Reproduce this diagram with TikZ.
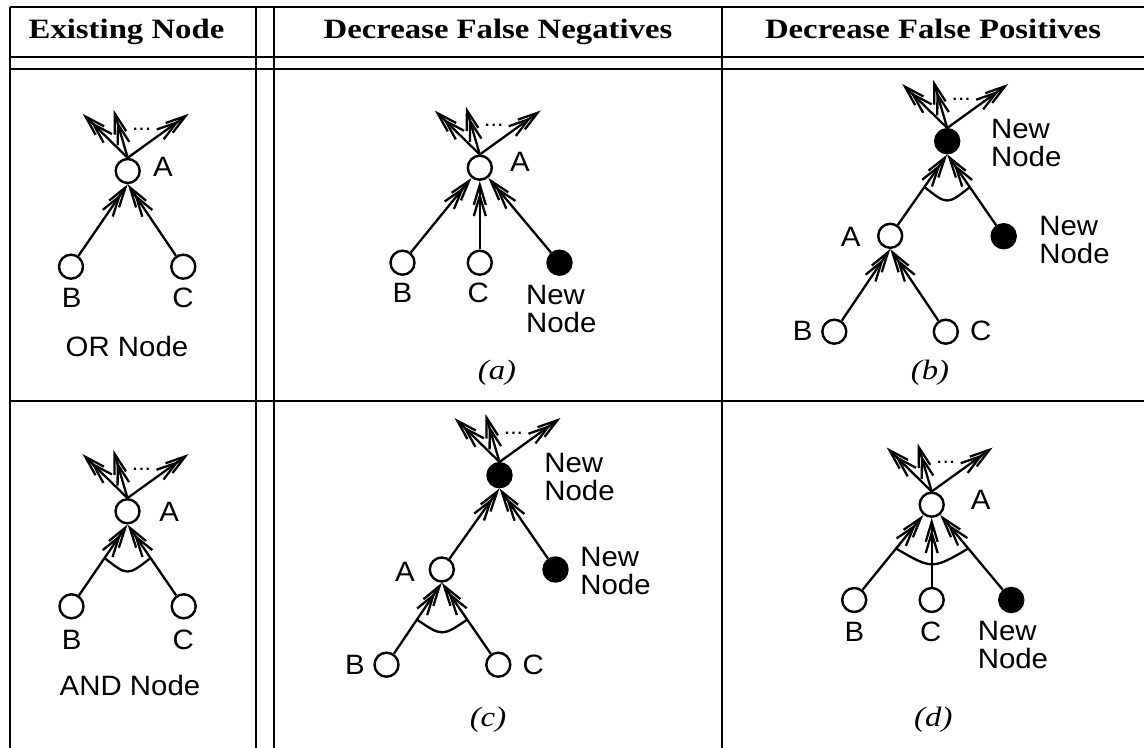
\documentclass[tikz,border=0pt]{standalone}
\usepackage{fontspec}
\setmainfont{Liberation Serif}
\setsansfont{Liberation Sans}
\newfontfamily\headfont[FakeStretch=1.17]{Liberation Serif}
\newfontfamily\labelfont[FakeStretch=1.05]{Liberation Sans}
\usetikzlibrary{arrows.meta,calc}
\tikzset{every picture/.style={line width=1.1pt}}

\newcommand{\fanout}[1]{%
  \draw[link] (#1.north) -- ++(-45,-44);
  \draw[link] (#1.north) -- ++(-14,-48);
  \draw[link] (#1.north) -- ++(61,-44);
  \node[lbl,font=\labelfont\fontsize{11}{12}\selectfont] (#1-dots) at ($(#1)+(14,-42)$) {...};
}

\begin{document}
\begin{tikzpicture}[x=0.5pt,y=-0.5pt,
    dot/.style={circle,draw,line width=1.2pt,inner sep=0pt,minimum size=12pt},
    newdot/.style={dot,fill=black},
    lbl/.style={font=\labelfont\fontsize{14}{14}\selectfont,inner sep=0pt},
    newlbl/.style={lbl,align=left,anchor=west},
    head/.style={font=\headfont\bfseries\fontsize{14}{16}\selectfont,anchor=base,inner sep=0pt},
    sublbl/.style={font=\headfont\itshape\fontsize{14}{16}\selectfont,inner sep=0pt},
    link/.style={line width=1.15pt,-{Straight Barb[length=10pt,width=6pt,sep=-7pt]Straight Barb[length=10pt,width=6pt]}},
    andarc/.style={line width=1.15pt}]
    \useasboundingbox (0,0) rectangle (1144,748);

    % table
    \draw (10,7) -- (1144,7);
    \draw (10,57) -- (1144,57);
    \draw (10,69) -- (1144,69);
    \draw (10,401) -- (1144,401);
    \draw (10,7) -- (10,748);
    \draw (256,7) -- (256,748);
    \draw (274,7) -- (274,748);
    \draw (722,7) -- (722,748);
    \node[head] (h1) at (126.5,39) {Existing Node};
    \node[head] (h2) at (498,39) {Decrease False Negatives};
    \node[head] (h3) at (933,39) {Decrease False Positives};

    % OR node
    \node[dot] (A1) at (127.7,171) {};
    \node[dot] (B1) at (71,266.7) {};
    \node[dot] (C1) at (183.3,266.7) {};
    \node[lbl] (A1-l) at (163,167) {A};
    \node[lbl] (B1-l) at (71.7,298) {B};
    \node[lbl] (C1-l) at (183,298) {C};
    \node[lbl] (or-l) at (127,346) {OR Node};
    \draw[link] (B1) -- (A1.south);
    \draw[link] (C1) -- (A1.south);
    \fanout{A1}

    % (a)
    \node[dot] (Aa) at (479.8,167.7) {};
    \node[dot] (Ba) at (402.5,262.7) {};
    \node[dot] (Ca) at (479.8,262.7) {};
    \node[newdot] (Na) at (559.5,262.7) {};
    \node[lbl] (Aa-l) at (520,161.7) {A};
    \node[lbl] (Ba-l) at (402.3,293.3) {B};
    \node[lbl] (Ca-l) at (478.3,293.3) {C};
    \node[newlbl] (Na-l) at (525,309) {New\\Node};
    \node[sublbl] (a-l) at (497,373) {(a)};
    \draw[link] (Ba) -- (Aa);
    \draw[link] (Ca) -- (Aa);
    \draw[link] (Na) -- (Aa);
    \fanout{Aa}

    % (b)
    \node[newdot] (Tb) at (947.2,141.2) {};
    \node[dot] (Ab) at (890.2,235.8) {};
    \node[newdot] (Nb) at (1003.7,236.2) {};
    \node[dot] (Bb) at (834.3,331.7) {};
    \node[dot] (Cb) at (945.8,331.7) {};
    \node[newlbl] (Tb-l) at (990,143.3) {New\\Node};
    \node[lbl] (Ab-l) at (850.7,236.7) {A};
    \node[newlbl] (Nb-l) at (1038.3,240) {New\\Node};
    \node[lbl] (Bb-l) at (802.7,330.7) {B};
    \node[lbl] (Cb-l) at (980.7,330.7) {C};
    \node[sublbl] (b-l) at (930,373) {(b)};
    \draw[link] (Ab) -- (Tb.south);
    \draw[link] (Nb) -- (Tb.south);
    \draw[link] (Bb) -- (Ab.south);
    \draw[link] (Cb) -- (Ab.south);
    \coordinate (b-p) at ($(Tb.south)!0.4!(Ab)$);
    \coordinate (b-q) at ($(Tb.south)!0.4!(Nb)$);
    \draw[andarc] (b-p) .. controls ($(b-p)!0.5!(b-q)+(0,18)$) .. (b-q);
    \fanout{Tb}

    % AND node
    \node[dot] (A4) at (127.5,511.3) {};
    \node[dot] (B4) at (71.5,606.3) {};
    \node[dot] (C4) at (183.7,606.3) {};
    \node[lbl] (A4-l) at (169.3,511.7) {A};
    \node[lbl] (B4-l) at (71.7,640) {B};
    \node[lbl] (C4-l) at (183.3,640) {C};
    \node[lbl] (and-l) at (130,685) {AND Node};
    \draw[link] (B4) -- (A4.south);
    \draw[link] (C4) -- (A4.south);
    \coordinate (4-p) at ($(A4.south)!0.41!(B4)$);
    \coordinate (4-q) at ($(A4.south)!0.41!(C4)$);
    \draw[andarc] (4-p) .. controls ($(4-p)!0.5!(4-q)+(0,18)$) .. (4-q);
    \fanout{A4}

    % (c)
    \node[newdot] (Tc) at (499.5,475.2) {};
    \node[dot] (Ac) at (441.8,569.5) {};
    \node[newdot] (Nc) at (555.5,569.5) {};
    \node[dot] (Bc) at (386.5,664.7) {};
    \node[dot] (Cc) at (498.3,664.7) {};
    \node[newlbl] (Tc-l) at (543.3,477.5) {New\\Node};
    \node[lbl] (Ac-l) at (405,571.7) {A};
    \node[newlbl] (Nc-l) at (579.3,570.8) {New\\Node};
    \node[lbl] (Bc-l) at (355,664.7) {B};
    \node[lbl] (Cc-l) at (533.3,665) {C};
    \node[sublbl] (c-l) at (488,720) {(c)};
    \draw[link] (Ac) -- (Tc.south);
    \draw[link] (Nc) -- (Tc.south);
    \draw[link] (Bc) -- (Ac.south);
    \draw[link] (Cc) -- (Ac.south);
    \coordinate (c-p) at ($(Ac.south)!0.45!(Bc)$);
    \coordinate (c-q) at ($(Ac.south)!0.45!(Cc)$);
    \draw[andarc] (c-p) .. controls ($(c-p)!0.5!(c-q)+(0,17)$) .. (c-q);
    \fanout{Tc}

    % (d)
    \node[dot] (Ad) at (931.7,504.7) {};
    \node[dot] (Bd) at (854.2,600) {};
    \node[dot] (Cd) at (931.7,600) {};
    \node[newdot] (Nd) at (1011.3,600) {};
    \node[lbl] (Ad-l) at (980.7,500) {A};
    \node[lbl] (Bd-l) at (854.3,631.7) {B};
    \node[lbl] (Cd-l) at (930.7,631.7) {C};
    \node[newlbl] (Nd-l) at (976.7,644.5) {New\\Node};
    \node[sublbl] (d-l) at (933.3,720) {(d)};
    \draw[link] (Bd) -- (Ad);
    \draw[link] (Cd) -- (Ad);
    \draw[link] (Nd) -- (Ad);
    \coordinate (d-p) at ($(Ad)!0.46!(Bd)$);
    \coordinate (d-q) at ($(Ad)!0.46!(Nd)$);
    \draw[andarc] (d-p) .. controls ($(d-p)!0.5!(d-q)+(0,21)$) .. (d-q);
    \fanout{Ad}
\end{tikzpicture}
\end{document}
